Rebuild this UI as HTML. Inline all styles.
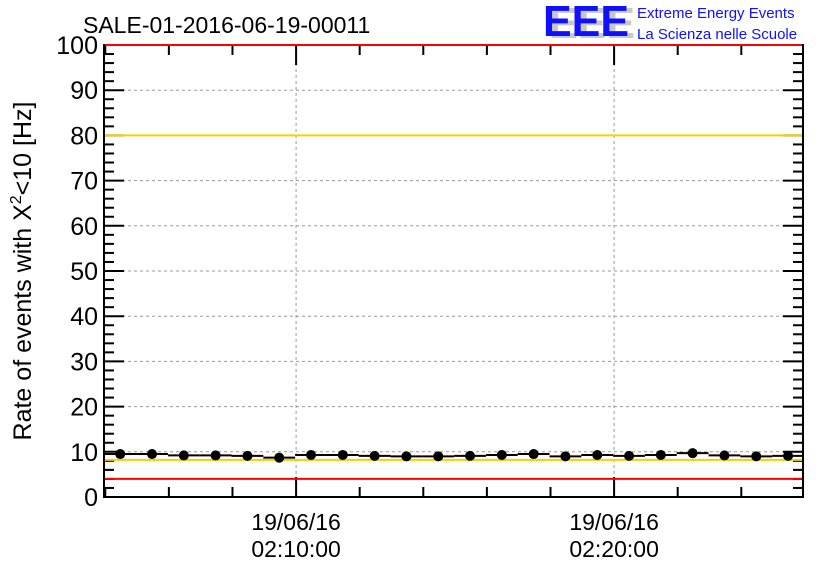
<!DOCTYPE html>
<html><head><meta charset="utf-8"><style>
body{margin:0;background:#fff;}
svg{display:block;font-family:"Liberation Sans",sans-serif;}
</style></head><body>
<svg id="chart" width="836" height="572">
<text x="83" y="33" font-size="23">SALE-01-2016-06-19-00011</text>
<g>
<text x="549" y="38" font-size="44" font-weight="bold" fill="#c8c8c8" textLength="86" lengthAdjust="spacingAndGlyphs">EEE</text>
<text x="543" y="36" font-size="44" font-weight="bold" fill="#1010ff" textLength="86" lengthAdjust="spacingAndGlyphs">EEE</text>
<text x="637" y="18" font-size="15" fill="#1010ff">Extreme Energy Events</text>
<text x="637" y="39" font-size="15" fill="#1010ff">La Scienza nelle Scuole</text>
</g>
<text transform="translate(31,271) rotate(-90)" text-anchor="middle" font-size="25">Rate of events with X<tspan dy="-10" font-size="16">2</tspan><tspan dy="10">&lt;10 [Hz]</tspan></text>
<g id="grid"></g><g id="axes"></g><g id="refs"></g><g id="series"></g>
</svg>
<script>
// minutes relative to 19/06/16 02:10:00
const times=[-5.53,-4.53,-3.53,-2.53,-1.53,-0.53,0.47,1.47,2.47,3.47,4.47,5.47,6.47,7.47,8.47,9.47,10.47,11.47,12.47,13.47,14.47,15.47];
const rates=[9.5,9.5,9.2,9.2,9.1,8.7,9.3,9.3,9.1,9.0,9.0,9.1,9.3,9.5,9.0,9.3,9.1,9.3,9.7,9.2,9.0,9.1];
const yTicks=[0,10,20,30,40,50,60,70,80,90,100];
const xTicks=[0,10];
const xTickDates=["19/06/16","19/06/16"];
const xTickTimes=["02:10:00","02:20:00"];
const redLines=[100,4];
const yellowLines=[80,8.2];
const X0=104,X1=803,Y0=497,Y1=45,xMin=-6.04,xMax=15.94,yMin=0,yMax=100;
const xs=v=>X0+(v-xMin)/(xMax-xMin)*(X1-X0);
const ys=v=>Y0-(v-yMin)/(yMax-yMin)*(Y0-Y1);
const NS="http://www.w3.org/2000/svg";
function mk(p,t,a){const e=document.createElementNS(NS,t);for(const k in a)e.setAttribute(k,a[k]);document.getElementById(p).appendChild(e);return e;}
yTicks.forEach(v=>{if(v>0&&v<100){
const g=mk('grid','line',{x1:X0,x2:X1,y1:ys(v),y2:ys(v),stroke:'#999','stroke-dasharray':'3,3','stroke-width':1});

}
const t=mk('axes','text',{x:X0-6,y:ys(v)+9,'text-anchor':'end','font-size':25});t.textContent=v;


});
xTicks.forEach((v,i)=>{
const g=mk('grid','line',{x1:xs(v),x2:xs(v),y1:Y1,y2:Y0,stroke:'#999','stroke-dasharray':'3,3','stroke-width':1});


const t=mk('axes','text',{x:xs(v),y:530,'text-anchor':'middle','font-size':23});t.textContent=xTickDates[i];


const t2=mk('axes','text',{x:xs(v),y:557,'text-anchor':'middle','font-size':23});t2.textContent=xTickTimes[i];


});
for(let v=0;v<=100;v+=2){const L=v%10===0?20:10;
mk('axes','line',{x1:X0,x2:X0+L,y1:ys(v),y2:ys(v),stroke:'#000','stroke-width':2});
mk('axes','line',{x1:X1,x2:X1-L,y1:ys(v),y2:ys(v),stroke:'#000','stroke-width':2});}
for(let m=-6;m<=15.9;m+=2){const L=m%10===0?20:10;
mk('axes','line',{x1:xs(m),x2:xs(m),y1:Y0,y2:Y0-L,stroke:'#000','stroke-width':2});
mk('axes','line',{x1:xs(m),x2:xs(m),y1:Y1,y2:Y1+L,stroke:'#000','stroke-width':2});}
const fr=mk('axes','rect',{x:X0,y:Y1,width:X1-X0,height:Y0-Y1,fill:'none',stroke:'#000','stroke-width':2});


redLines.forEach(v=>{const l=mk('refs','line',{x1:X0+1,x2:X1-1,y1:ys(v),y2:ys(v),stroke:'#ff0000','stroke-width':2});

});
yellowLines.forEach(v=>{const l=mk('refs','line',{x1:X0+1,x2:X1-1,y1:ys(v),y2:ys(v),stroke:'#ffcc00','stroke-width':2});

});
times.forEach((t,i)=>{
const s=mk('series','line',{x1:Math.max(X0,xs(t-0.5)),x2:Math.min(X1,xs(t+0.5)),y1:ys(rates[i]),y2:ys(rates[i]),stroke:'#000','stroke-width':2});


const c=mk('series','circle',{cx:xs(t),cy:ys(rates[i]),r:5,fill:'#000'});


});
</script>
</body></html>
